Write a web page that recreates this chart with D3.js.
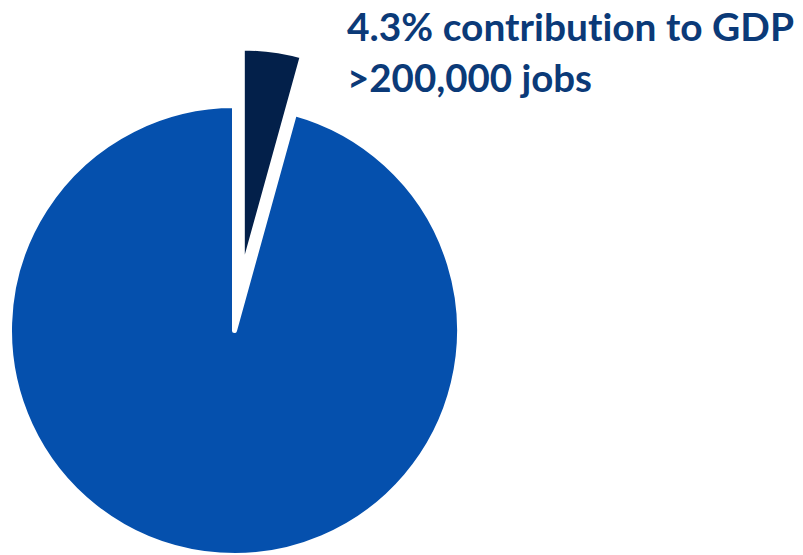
<!DOCTYPE html>
<html>
<head>
<meta charset="utf-8">
<script src="https://cdn.jsdelivr.net/npm/d3@7"></script>
<style>
  body { margin: 0; background: #fff; }
  svg { display: block; }
</style>
</head>
<body>
<svg width="803" height="555"></svg>
<script>
// **** Data ****
var sectors = ["Contribution to GDP", "Rest of economy"];
var shares = [4.3, 95.7];
var sliceColors = ["#03204A", "#0550AD"];
var labelLines = ["4.3% contribution to GDP", ">200,000 jobs"];

// **** Layout ****
var svg = d3.select("svg");
var cx = 234.5, cy = 330.5, radius = 225;
var explode = 58;

var pie = d3.pie().sort(null).value(d => d);
var arc = d3.arc().innerRadius(0).outerRadius(radius);

var slices = pie(shares);

var g = svg.append("g").attr("transform", `translate(${cx},${cy})`);

g.selectAll(".slice")
    .data(slices)
    .enter()
    .append("path")
    .attr("class", "slice")
    .attr("d", arc)
    .attr("fill", (d, i) => sliceColors[i])
    .attr("stroke", "#fff")
    .attr("stroke-width", 5)
    .attr("stroke-linejoin", "round")
    .attr("transform", (d, i) => {
        if (i !== 0) return null;
        var mid = (d.startAngle + d.endAngle) / 2;
        return `translate(${explode * Math.sin(mid)},${-explode * Math.cos(mid)})`;
    });

// **** Label ****
var label = svg.append("text")
    .style("font-family", "Lato, 'Open Sans', sans-serif")
    .style("font-weight", "bold")
    .style("font-size", "38px")
    .style("font-variant-ligatures", "none")
    .style("font-feature-settings", "'liga' 0, 'clig' 0")
    .style("fill", "#0B3A78");

label.append("tspan").attr("x", 347).attr("y", 41)
    .attr("textLength", 447).attr("lengthAdjust", "spacingAndGlyphs")
    .text(labelLines[0]);
label.append("tspan").attr("x", 347).attr("y", 92)
    .attr("textLength", 245).attr("lengthAdjust", "spacingAndGlyphs")
    .text(labelLines[1]);
</script>
</body>
</html>
